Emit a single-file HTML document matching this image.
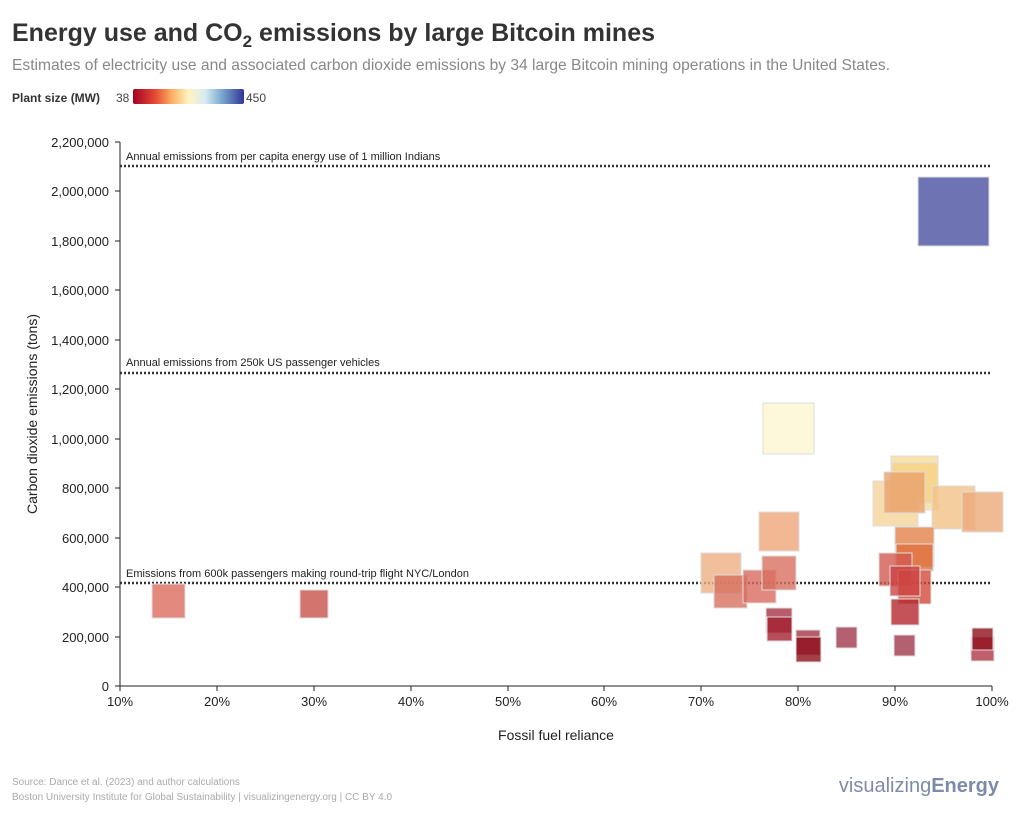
<!DOCTYPE html>
<html><head><meta charset="utf-8"><style>
body{margin:0;background:#fff;width:1024px;height:827px;overflow:hidden;font-family:"Liberation Sans",sans-serif}
</style></head><body>
<svg width="1024" height="827" xmlns="http://www.w3.org/2000/svg" font-family="Liberation Sans, sans-serif">
<defs><linearGradient id="g" x1="0" x2="1">
<stop offset="0" stop-color="#a50026"/><stop offset="0.2" stop-color="#e34a33"/><stop offset="0.35" stop-color="#fdae61"/><stop offset="0.5" stop-color="#fff5c0"/><stop offset="0.65" stop-color="#d6ebf2"/><stop offset="0.8" stop-color="#7aa7cf"/><stop offset="1" stop-color="#313695"/></linearGradient></defs>
<text x="12" y="41" font-size="25" font-weight="bold" fill="#333">Energy use and CO<tspan font-size="17" dy="6">2</tspan><tspan dy="-6"> emissions by large Bitcoin mines</tspan></text>
<text x="12" y="70" font-size="15.6" fill="#888">Estimates of electricity use and associated carbon dioxide emissions by 34 large Bitcoin mining operations in the United States.</text>
<text x="12" y="102" font-size="12" font-weight="bold" fill="#333">Plant size (MW)</text>
<text x="116" y="102" font-size="12" fill="#444">38</text>
<rect x="133" y="89" width="111" height="15" rx="2" fill="url(#g)"/>
<text x="246" y="102" font-size="12" fill="#444">450</text>

<g font-size="13" fill="#222" text-anchor="end">
<text x="109" y="691">0</text><text x="109" y="642">200,000</text><text x="109" y="592">400,000</text><text x="109" y="543">600,000</text><text x="109" y="493">800,000</text><text x="109" y="444">1,000,000</text><text x="109" y="394">1,200,000</text><text x="109" y="345">1,400,000</text><text x="109" y="295">1,600,000</text><text x="109" y="246">1,800,000</text><text x="109" y="196">2,000,000</text><text x="109" y="147">2,200,000</text>
</g>
<g stroke="#222" stroke-width="1">
<line x1="120" y1="142" x2="120" y2="686"/><line x1="120" y1="686" x2="992" y2="686"/>
<line x1="115" y1="686" x2="120" y2="686"/><line x1="115" y1="637" x2="120" y2="637"/><line x1="115" y1="587" x2="120" y2="587"/><line x1="115" y1="538" x2="120" y2="538"/><line x1="115" y1="488" x2="120" y2="488"/><line x1="115" y1="439" x2="120" y2="439"/><line x1="115" y1="389" x2="120" y2="389"/><line x1="115" y1="340" x2="120" y2="340"/><line x1="115" y1="290" x2="120" y2="290"/><line x1="115" y1="241" x2="120" y2="241"/><line x1="115" y1="191" x2="120" y2="191"/><line x1="115" y1="142" x2="120" y2="142"/>
<line x1="120" y1="686" x2="120" y2="691"/><line x1="217" y1="686" x2="217" y2="691"/><line x1="314" y1="686" x2="314" y2="691"/><line x1="411" y1="686" x2="411" y2="691"/><line x1="508" y1="686" x2="508" y2="691"/><line x1="604" y1="686" x2="604" y2="691"/><line x1="701" y1="686" x2="701" y2="691"/><line x1="798" y1="686" x2="798" y2="691"/><line x1="895" y1="686" x2="895" y2="691"/><line x1="992" y1="686" x2="992" y2="691"/>
</g>
<g font-size="13" fill="#222" text-anchor="middle">
<text x="120" y="706">10%</text><text x="217" y="706">20%</text><text x="314" y="706">30%</text><text x="411" y="706">40%</text><text x="508" y="706">50%</text><text x="604" y="706">60%</text><text x="701" y="706">70%</text><text x="798" y="706">80%</text><text x="895" y="706">90%</text><text x="992" y="706">100%</text>
</g>
<text x="556" y="740" font-size="14" fill="#222" text-anchor="middle">Fossil fuel reliance</text>
<text transform="translate(37,414) rotate(-90)" font-size="14" fill="#222" text-anchor="middle">Carbon dioxide emissions (tons)</text>

<g stroke="#333" stroke-width="2.5" stroke-dasharray="2,2">
<line x1="120" y1="166" x2="992" y2="166"/><line x1="120" y1="373" x2="992" y2="373"/><line x1="120" y1="583" x2="992" y2="583"/>
</g>
<g font-size="11" fill="#222">
<text x="126" y="160">Annual emissions from per capita energy use of 1 million Indians</text>
<text x="126" y="366">Annual emissions from 250k US passenger vehicles</text>
<text x="126" y="577">Emissions from 600k passengers making round-trip flight NYC/London</text>
</g>

<g stroke="#ddd" stroke-width="1" fill-opacity="0.8">
<rect x="918" y="177" width="71" height="69" fill="#4a50a0"/>
<rect x="763" y="403" width="51" height="51" fill="#fbf6cf"/>
<rect x="891" y="456" width="47" height="54" fill="#f8dc98"/>
<rect x="892" y="463" width="46" height="40" fill="#f6d184"/>
<rect x="873" y="481" width="45" height="45" fill="#f5d399"/>
<rect x="884" y="472" width="41" height="41" fill="#eaa06a"/>
<rect x="932" y="486" width="43" height="43" fill="#f3c288"/>
<rect x="962" y="492" width="41" height="40" fill="#eca978"/>
<rect x="759" y="512" width="40" height="39" fill="#eda678"/>
<rect x="701" y="553" width="40" height="40" fill="#eeaf82"/>
<rect x="714" y="575" width="33" height="33" fill="#d8705f"/>
<rect x="743" y="570" width="33" height="33" fill="#da6b5e"/>
<rect x="762" y="556" width="34" height="34" fill="#d8705f"/>
<rect x="895" y="527" width="39" height="40" fill="#e4824a"/>
<rect x="896" y="544" width="37" height="27" fill="#e07040"/>
<rect x="879" y="553" width="33" height="33" fill="#d25a50"/>
<rect x="898" y="570" width="33" height="34" fill="#d24a38"/>
<rect x="890" y="566" width="30" height="30" fill="#cc4444"/>
<rect x="891" y="599" width="28" height="26" fill="#b52830"/>
<rect x="766" y="608" width="26" height="25" fill="#a83448"/>
<rect x="767" y="617" width="25" height="24" fill="#a52030"/>
<rect x="796" y="630" width="24" height="25" fill="#a83448"/>
<rect x="796" y="637" width="25" height="25" fill="#8e101c"/>
<rect x="836" y="627" width="21" height="21" fill="#a03a4c"/>
<rect x="894" y="635" width="21" height="21" fill="#a03a4c"/>
<rect x="971" y="637" width="23" height="24" fill="#b03848"/>
<rect x="972" y="628" width="21" height="22" fill="#8e101c"/>
<rect x="152" y="584" width="33" height="34" fill="#dc6b5e"/>
<rect x="300" y="590" width="28" height="28" fill="#c8524a"/>
</g>

<text x="12" y="785" font-size="10" fill="#aaa">Source: Dance et al. (2023) and author calculations</text>
<text x="12" y="800" font-size="10" fill="#aaa">Boston University Institute for Global Sustainability | visualizingenergy.org | CC BY 4.0</text>
<text x="999" y="792" font-size="20" fill="#7e8ba8" text-anchor="end">visualizing<tspan font-weight="bold">Energy</tspan></text>
</svg>
</body></html>
